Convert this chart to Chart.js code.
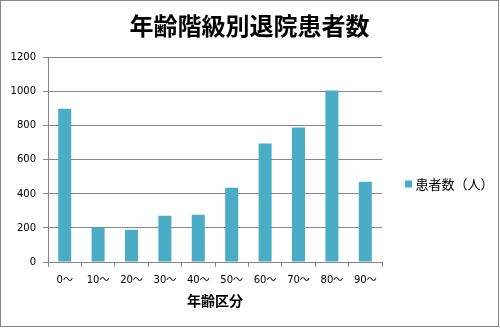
<!DOCTYPE html>
<html lang="ja">
<head>
<meta charset="utf-8">
<script src="https://cdn.jsdelivr.net/npm/chart.js@4/dist/chart.umd.min.js"></script>
<style>
  html, body { margin: 0; padding: 0; background: #fff; }
  .frame {
    position: absolute; left: 0; top: 0;
    width: 497px; height: 325px;
    border: 1px solid #868686;
  }
  canvas { display: block; }
</style>
</head>
<body>
<div class="frame"><canvas id="discharge-chart" width="497" height="325"></canvas></div>
<script>
// 年齢階級別退院患者数 — values.
const ageGroups = ['0～', '10～', '20～', '30～', '40～', '50～', '60～', '70～', '80～', '90～'];
const patientCounts = [900, 202, 190, 272, 278, 437, 696, 790, 1008, 472];
const yTicks = [0, 200, 400, 600, 800, 1000, 1200];

const SERIES_LABEL = '患者数（人）';
const BAR_COLOR = '#4bacc6';
const LINE_COLOR = '#868686';
const CJK_FONT = '"Noto Sans CJK JP", "Noto Sans CJK SC", sans-serif';

Chart.defaults.font.family = '"DejaVu Sans", ' + CJK_FONT;
Chart.defaults.color = '#000';

new Chart(document.getElementById('discharge-chart'), {
  type: 'bar',
  data: {
    labels: ageGroups,
    datasets: [{
      label: SERIES_LABEL,
      data: patientCounts,
      backgroundColor: BAR_COLOR,
      borderWidth: 0,
      categoryPercentage: 1,
      barPercentage: 0.39,
    }],
  },
  options: {
    responsive: false,
    animation: false,
    layout: { padding: 0 },
    plugins: {
      // Right-hand legend, fixed at 116px wide so the plot ends where Excel's did.
      // The empty legend title only pushes the single entry down to the reference's height.
      legend: {
        position: 'right',
        maxWidth: 116,
        title: { display: true, text: '', font: { size: 10 }, padding: { top: 29, bottom: 0 } },
        labels: {
          usePointStyle: true,
          pointStyle: 'rect',
          boxWidth: 1,
          boxHeight: 7,
          padding: 26,
          color: '#000',
          font: { family: CJK_FONT, size: 13 },
        },
      },
      tooltip: { enabled: false },
      title: {
        display: true,
        text: '年齢階級別退院患者数',
        color: '#000',
        font: { family: CJK_FONT, size: 24, weight: 'bold' },
        padding: { top: 10, bottom: 18 },
      },
    },
    scales: {
      x: {
        grid: { display: true, drawOnChartArea: false, drawTicks: true, tickLength: 5, color: LINE_COLOR, offset: true },
        border: { color: LINE_COLOR },
        ticks: { padding: 7, font: { size: 10 }, maxRotation: 0, autoSkip: false },
        title: {
          display: true,
          text: '年齢区分',
          color: '#000',
          font: { family: CJK_FONT, size: 14, weight: 'bold' },
          padding: { top: 0, bottom: 17 },
        },
        afterFit(scale) { scale.height = 64; },
      },
      y: {
        min: 0,
        max: 1200,
        grid: { color: LINE_COLOR, tickLength: 5 },
        border: { color: LINE_COLOR },
        ticks: {
          padding: 7,
          font: { size: 10 },
          stepSize: 200,
          callback: (v) => (yTicks.includes(v) ? String(v) : ''),
        },
        afterFit(scale) { scale.width = 47; },
      },
    },
  },
});
</script>
</body>
</html>
